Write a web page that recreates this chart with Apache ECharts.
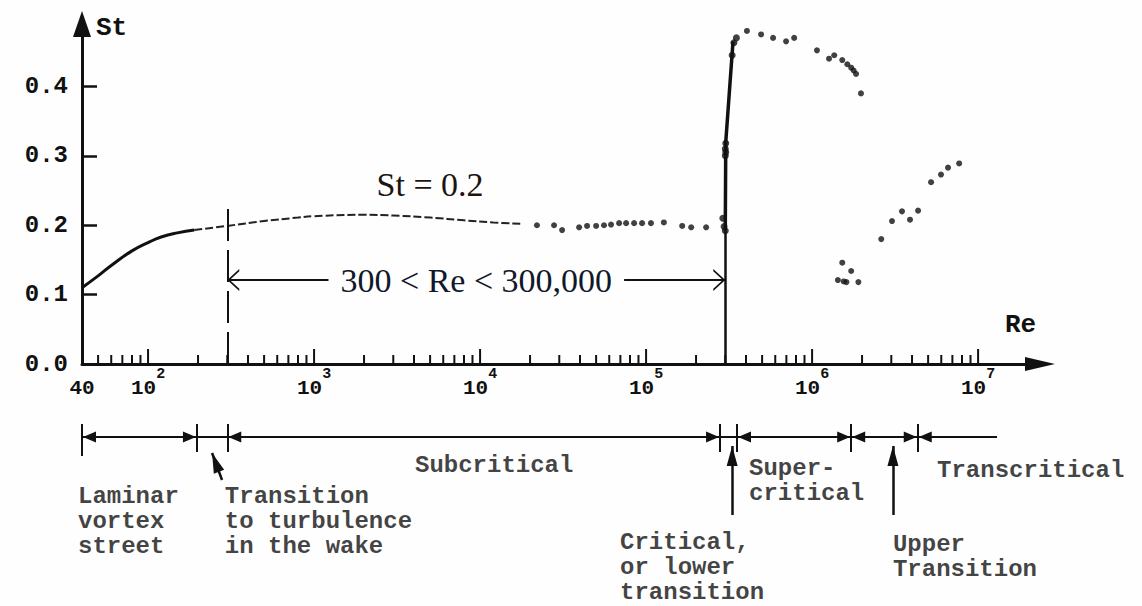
<!DOCTYPE html>
<html>
<head>
<meta charset="utf-8">
<script src="https://cdn.jsdelivr.net/npm/echarts@6/dist/echarts.min.js"></script>
<style>
html, body { margin: 0; padding: 0; background: #fefefe; }
#chart { width: 1142px; height: 606px; }
</style>
</head>
<body>
<div id="chart"></div>
<script>
// Strouhal number against Reynolds number for a circular cylinder
var RE_MIN = 40, RE_MAX = 2.36e7;

// smooth curve: laminar part (solid) and subcritical part (dashed)
var laminarCurve = [[40, 0.11], [50, 0.127], [60, 0.142], [80, 0.163], [100, 0.175], [120, 0.183], [150, 0.189], [190, 0.193]];
var subcriticalCurve = [[190, 0.193], [300, 0.199], [500, 0.206], [800, 0.211], [1000, 0.213], [2000, 0.215], [3000, 0.214], [5000, 0.211], [8000, 0.207], [12000, 0.204], [18000, 0.202]];

// measured points
var subcriticalDots = [[22000, 0.200], [27900, 0.200], [31200, 0.193], [39500, 0.197], [44100, 0.199], [50000, 0.199], [55800, 0.200], [61500, 0.201], [68800, 0.203], [75800, 0.203], [84700, 0.203], [94600, 0.203], [107000, 0.203], [128000, 0.204], [165000, 0.199], [187000, 0.197], [230000, 0.197]];
var criticalJump = [[3.0e5, 0.195], [3.02e5, 0.32], [3.34e5, 0.465]];
var criticalDots = [[2.9e5, 0.21], [2.95e5, 0.198], [3.0e5, 0.192], [3.0e5, 0.30], [3.0e5, 0.31], [3.02e5, 0.318], [3.02e5, 0.305], [3.3e5, 0.445], [3.38e5, 0.463], [3.5e5, 0.47]];
var supercriticalDots = [[4.05e5, 0.48], [4.93e5, 0.475], [5.82e5, 0.47], [6.97e5, 0.465], [7.8e5, 0.47], [1.07e6, 0.452], [1.265e6, 0.44], [1.36e6, 0.445], [1.52e6, 0.438], [1.63e6, 0.432], [1.72e6, 0.427], [1.78e6, 0.423], [1.84e6, 0.418], [1.97e6, 0.39]];
var lowBranchDots = [[1.52e6, 0.146], [1.72e6, 0.134], [1.43e6, 0.121], [1.55e6, 0.119], [1.61e6, 0.118], [1.90e6, 0.118]];
var transcriticalDots = [[2.61e6, 0.18], [3.03e6, 0.206], [3.48e6, 0.22], [3.89e6, 0.208], [4.35e6, 0.221], [5.21e6, 0.262], [5.98e6, 0.273], [6.59e6, 0.283], [7.69e6, 0.289]];

// axis ticks and labels
var yTickValues = [0.1, 0.2, 0.3, 0.4];
var yLabelValues = [0, 0.1, 0.2, 0.3, 0.4];
var tickMantissas = [1, 2, 3, 4, 5, 6, 7, 8, 9];
var tickDecades = [10, 100, 1e3, 1e4, 1e5, 1e6];

// flow regimes along Re
var regionBounds = [40, 197, 300, 2.79e5, 3.53e5, 1.72e6, 4.33e6];
var regionSpans = [[40, 197], [300, 2.79e5], [3.53e5, 1.72e6], [1.72e6, 4.33e6]];
var regionTail = [4.33e6, 1.3e7];
var transitionMarks = [3.3e5, 3.07e6];
var regionTexts = ['Laminar\nvortex\nstreet', 'Transition\nto turbulence\nin the wake', 'Subcritical', 'Super-\ncritical', 'Transcritical', 'Critical,\nor lower\ntransition', 'Upper\nTransition'];
var stRange = [300, 3e5];

var INK = '#111';
var MONO = 'Liberation Mono';

var xTicks = [];
tickDecades.forEach(function (d) {
  tickMantissas.forEach(function (m) {
    var v = m * d;
    if (v > RE_MIN && v <= 1e7) xTicks.push([v, 0, m === 1 ? 1 : 0]);
  });
});
xTicks.push([1e7, 0, 1]);

// label anchors in the lower strip (Re, pixel row below strip top)
var textAnchors = [[40, 78], [290, 78], [4055, 47], [4.17e5, 50], [5.66e6, 52], [6.97e4, 124], [3.07e6, 126]];

var chevron = 'path://M0,24 L12,0 L24,24 L21.5,24 L12,5 L2.5,24 Z';

var chart = echarts.init(document.getElementById('chart'), null, {renderer: 'svg'});

var option = {
  backgroundColor: '#fefefe',
  animation: false,
  grid: [
    {left: 82, right: 102, top: 24, bottom: 242},
    {left: 82, right: 102, top: 406, height: 200}
  ],
  xAxis: [
    {
      gridIndex: 0, type: 'log', logBase: 10, min: RE_MIN, max: RE_MAX,
      axisLine: {show: true, lineStyle: {color: INK, width: 3}, symbol: ['none', 'triangle'], symbolSize: [14, 30]},
      axisTick: {show: false},
      splitLine: {show: false},
      axisLabel: {
        showMinLabel: true, showMaxLabel: false, margin: 3,
        formatter: function (v) {
          var e = Math.log10(v);
          if (Math.abs(v - 40) < 1e-6) return '{b|40}';
          if (Math.abs(e - Math.round(e)) < 1e-6 && Math.round(e) <= 7) return '{b|10}{s|' + Math.round(e) + '}';
          return '';
        },
        rich: {
          b: {fontFamily: MONO, fontWeight: 'bold', fontSize: 21, color: INK, lineHeight: 32, verticalAlign: 'bottom'},
          s: {fontFamily: MONO, fontWeight: 'bold', fontSize: 15, color: INK, lineHeight: 32, verticalAlign: 'top'}
        }
      },
      name: 'Re', nameLocation: 'end', nameGap: -35,
      nameTextStyle: {fontFamily: MONO, fontWeight: 'bold', fontSize: 26, color: INK, align: 'left', verticalAlign: 'bottom', padding: [0, 0, 26, 0]}
    },
    {gridIndex: 1, type: 'log', logBase: 10, min: RE_MIN, max: RE_MAX, show: false}
  ],
  yAxis: [
    {
      gridIndex: 0, type: 'value', min: 0, max: 0.49,
      axisLine: {show: true, lineStyle: {color: INK, width: 3}, symbol: ['none', 'triangle'], symbolSize: [18, 26]},
      axisTick: {show: true, inside: true, length: 15, lineStyle: {color: INK, width: 2.5}, customValues: yTickValues},
      axisLabel: {customValues: yLabelValues, margin: 14, fontFamily: MONO, fontWeight: 'bold', fontSize: 24, color: INK,
        formatter: function (v) { return v.toFixed(1); }},
      splitLine: {show: false},
      name: 'St', nameLocation: 'end', nameGap: -4,
      nameTextStyle: {fontFamily: MONO, fontWeight: 'bold', fontSize: 26, color: INK, align: 'left', verticalAlign: 'middle', padding: [0, 0, 0, 14]}
    },
    {gridIndex: 1, type: 'value', min: 0, max: 200, inverse: true, show: false}
  ],
  series: [
    {
      // minor / decade ticks on the log axis
      type: 'custom', xAxisIndex: 0, yAxisIndex: 0, silent: true, data: xTicks, encode: {x: 0, y: 1},
      renderItem: function (params, api) {
        var p = api.coord([api.value(0), 0]);
        var len = api.value(2) ? 15 : 9;
        return {type: 'line', shape: {x1: p[0], y1: p[1] - 1, x2: p[0], y2: p[1] - len}, style: {stroke: INK, lineWidth: 2}};
      }
    },
    {
      type: 'line', data: laminarCurve, smooth: true, showSymbol: false, silent: true,
      lineStyle: {color: INK, width: 3}
    },
    {
      type: 'line', data: subcriticalCurve, smooth: true, showSymbol: false, silent: true,
      lineStyle: {color: '#222', width: 2, type: [8, 3]},
      markPoint: {
        symbolSize: 0, silent: true,
        label: {show: true, position: 'inside', formatter: 'St = 0.2', fontFamily: 'Liberation Serif', fontSize: 34, color: '#1c1410'},
        data: [{coord: [5000, 0.258]}]
      },
      markLine: {
        silent: true, symbol: 'none', label: {show: false},
        lineStyle: {color: INK, width: 2, type: [32, 9]},
        data: [[{coord: [stRange[0], 0]}, {coord: [stRange[0], 0.235]}]]
      }
    },
    {
      type: 'line', data: criticalJump, showSymbol: false, silent: true,
      lineStyle: {color: INK, width: 3.5},
      markLine: {
        silent: true, symbol: 'none', label: {show: false},
        lineStyle: {color: INK, width: 2.5, type: 'solid'},
        data: [[{coord: [stRange[1], 0]}, {coord: [stRange[1], 0.195]}]]
      }
    },
    {
      // double arrow for the range of constant St
      type: 'line', data: [], silent: true,
      markLine: {
        silent: true, symbol: [chevron, chevron], symbolSize: [22, 12], symbolOffset: [[0, 6], [0, 6]],
        lineStyle: {color: INK, width: 1.8, type: 'solid'},
        label: {show: true, position: 'middle', distance: 0, align: 'center', verticalAlign: 'middle',
          formatter: '300 < Re < 300,000', fontFamily: 'Liberation Serif', fontSize: 34, color: '#10182a',
          backgroundColor: '#fefefe', padding: [2, 12]},
        data: [[{coord: [stRange[0], 0.121]}, {coord: [stRange[1], 0.121]}]]
      }
    },
    {
      type: 'scatter', silent: true, symbolSize: 6, itemStyle: {color: INK},
      data: subcriticalDots.concat(supercriticalDots, lowBranchDots, transcriticalDots)
    },
    {
      type: 'scatter', silent: true, symbolSize: 7, itemStyle: {color: INK}, data: criticalDots
    },
    // ---- lower strip: flow regimes ----
    {
      type: 'scatter', xAxisIndex: 1, yAxisIndex: 1, silent: true, symbolSize: 0,
      data: regionTexts.map(function (t, i) {
        var item = {name: t, value: textAnchors[i]};
        if (i === 0) item.label = {offset: [-4, 0]};
        return item;
      }),
      label: {show: true, position: [0, 0], align: 'left', verticalAlign: 'top', formatter: '{b}',
        fontFamily: MONO, fontWeight: 'bold', fontSize: 24, lineHeight: 25, color: INK},
      markLine: {
        silent: true, symbol: 'none', label: {show: false},
        lineStyle: {color: INK, width: 2, type: 'solid'},
        data: [[{coord: [RE_MIN, 31]}, {coord: [regionTail[1], 31]}]].concat(
          regionBounds.map(function (b, i) { return [{coord: [b, 18]}, {coord: [b, i === 0 ? 50 : 46]}]; }))
      }
    },
    {
      type: 'scatter', xAxisIndex: 1, yAxisIndex: 1, silent: true, data: [],
      markLine: {
        silent: true, symbol: ['triangle', 'triangle'], symbolSize: [11, 13], symbolOffset: [[0, 7.5], [0, 7.5]],
        label: {show: false}, lineStyle: {color: INK, width: 2, type: 'solid'},
        data: regionSpans.map(function (s) { return [{coord: [s[0], 31]}, {coord: [s[1], 31]}]; })
      }
    },
    {
      type: 'scatter', xAxisIndex: 1, yAxisIndex: 1, silent: true, data: [],
      markLine: {
        silent: true, symbol: ['triangle', 'none'], symbolSize: [11, 13], symbolOffset: [[0, 7.5], [0, 0]],
        label: {show: false}, lineStyle: {color: INK, width: 2, type: 'solid'},
        data: [[{coord: [regionTail[0], 31]}, {coord: [regionTail[1], 31]}]]
      }
    },
    {
      type: 'scatter', xAxisIndex: 1, yAxisIndex: 1, silent: true, data: [],
      markLine: {
        silent: true, symbol: ['none', 'triangle'], symbolSize: [11, 20], symbolOffset: [[0, 0], [0, 10]],
        label: {show: false}, lineStyle: {color: INK, width: 2.5, type: 'solid'},
        data: transitionMarks.map(function (r) { return [{coord: [r, 109]}, {coord: [r, 40]}]; })
          .concat([[{coord: [279, 74]}, {coord: [243, 47]}]])
      }
    }
  ]
};

chart.setOption(option);
</script>
</body>
</html>
